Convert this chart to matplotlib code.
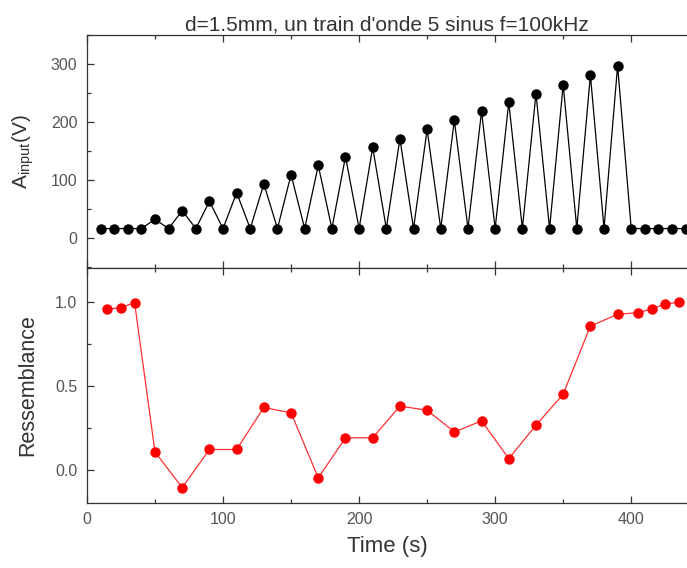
import numpy as np
import matplotlib
matplotlib.use("Agg")
import matplotlib.pyplot as plt
from matplotlib.ticker import MultipleLocator, FormatStrFormatter

plt.rcParams['font.family'] = ['Liberation Sans', 'DejaVu Sans']

# signal d'entree (train de 5 sinus)
t_in = [10, 20, 30, 40, 50, 60, 70, 80, 90, 100, 110, 120, 130, 140, 150, 160,
        170, 180, 190, 200, 210, 220, 230, 240, 250, 260, 270, 280, 290, 300,
        310, 320, 330, 340, 350, 360, 370, 380, 390, 400, 410, 420, 430, 440]
a_in = [16, 16, 16, 16, 32, 16, 47, 16, 63, 16, 78, 16, 93, 16, 109, 16,
        125, 16, 140, 16, 156, 16, 171, 16, 187, 16, 203, 16, 218, 16,
        234, 16, 249, 16, 264, 16, 281, 16, 297, 16, 16, 16, 16, 16]

# ressemblance
t_res = [15, 25, 35, 50, 70, 90, 110, 130, 150, 170, 190, 210, 230, 250, 270,
         290, 310, 330, 350, 370, 390, 405, 415, 425, 435]
res = [0.96, 0.968, 0.998, 0.105, -0.108, 0.12, 0.12, 0.371, 0.339, -0.05,
       0.19, 0.19, 0.379, 0.355, 0.225, 0.291, 0.066, 0.265, 0.451, 0.858,
       0.928, 0.938, 0.96, 0.99, 1.0]

fig = plt.figure(figsize=(6.87, 5.68), dpi=100)
ax1 = fig.add_axes([0.1266, 0.5282, 0.8734, 0.4102])
ax2 = fig.add_axes([0.1266, 0.1144, 0.8734, 0.4138], sharex=ax1)

ax1.plot(t_in, a_in, color='black', lw=0.9, marker='o', ms=7.5,
         markeredgewidth=0)
ax2.plot(t_res, res, color='#ff3030', lw=0.9, marker='o', ms=7.5,
         markerfacecolor='red', markeredgewidth=0)

ax1.set_xlim(0, 441)
ax1.set_ylim(-52, 350)
ax2.set_ylim(-0.2, 1.205)

ax1.yaxis.set_major_locator(MultipleLocator(100))
ax1.yaxis.set_minor_locator(MultipleLocator(50))
ax2.yaxis.set_major_locator(MultipleLocator(0.5))
ax2.yaxis.set_minor_locator(MultipleLocator(0.25))
ax2.xaxis.set_major_locator(MultipleLocator(100))
ax2.xaxis.set_minor_locator(MultipleLocator(50))

for ax in (ax1, ax2):
    ax.tick_params(which='both', direction='in', top=True, right=False,
                   colors='#333333', labelcolor='#555555', labelsize=11.5)
    ax.tick_params(which='major', length=5, width=0.9)
    ax.tick_params(which='minor', length=3, width=0.9)
    ax.tick_params(axis='y', which='major', pad=7)
    ax.tick_params(axis='x', which='major', pad=6.5)
    ax.spines['right'].set_visible(False)
    for s in ('left', 'top', 'bottom'):
        ax.spines[s].set_color('#333333')
        ax.spines[s].set_linewidth(0.9)
ax1.tick_params(labelbottom=False)
ax2.yaxis.set_major_formatter(FormatStrFormatter('%.1f'))

ax1.set_title("d=1.5mm, un train d'onde 5 sinus f=100kHz", fontsize=15,
              color='#333333', pad=3)
ax1.set_ylabel(r'A$_{\mathregular{input}}$(V)', fontsize=15, color='#333333')
ax2.set_ylabel('Ressemblance', fontsize=15.5, color='#333333')
ax2.set_xlabel('Time (s)', fontsize=16, color='#333333', labelpad=6.5)
ax1.yaxis.set_label_coords(-0.085, 0.5)
ax2.yaxis.set_label_coords(-0.082, 0.5)

fig.savefig('out.png', dpi=100)
